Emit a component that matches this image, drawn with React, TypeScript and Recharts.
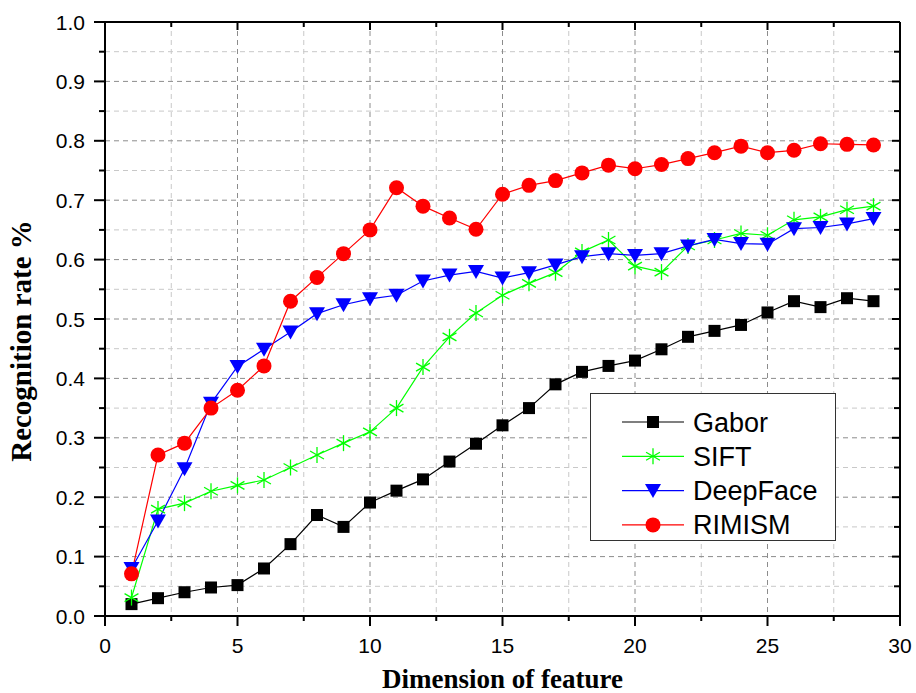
import React from 'react';
import { LineChart, Line, XAxis, YAxis, CartesianGrid, Legend, Label } from 'recharts';

const dims = [1, 2, 3, 4, 5, 6, 7, 8, 9, 10, 11, 12, 13, 14, 15, 16, 17, 18, 19, 20, 21, 22, 23, 24, 25, 26, 27, 28, 29];
const gabor = [0.020, 0.030, 0.040, 0.048, 0.052, 0.080, 0.121, 0.170, 0.150, 0.191, 0.211, 0.230, 0.260, 0.290, 0.321, 0.350, 0.390, 0.411, 0.421, 0.430, 0.449, 0.470, 0.480, 0.490, 0.511, 0.530, 0.520, 0.535, 0.530];
const sift = [0.031, 0.180, 0.190, 0.210, 0.220, 0.229, 0.250, 0.271, 0.291, 0.310, 0.350, 0.419, 0.470, 0.510, 0.540, 0.560, 0.578, 0.613, 0.633, 0.589, 0.579, 0.623, 0.633, 0.644, 0.641, 0.667, 0.672, 0.684, 0.690];
const deepface = [0.080, 0.160, 0.248, 0.358, 0.420, 0.449, 0.478, 0.509, 0.524, 0.534, 0.540, 0.564, 0.574, 0.580, 0.569, 0.578, 0.591, 0.605, 0.610, 0.607, 0.610, 0.623, 0.634, 0.627, 0.626, 0.652, 0.654, 0.660, 0.669];
const rimism = [0.071, 0.271, 0.291, 0.350, 0.380, 0.421, 0.530, 0.570, 0.610, 0.650, 0.721, 0.690, 0.670, 0.651, 0.710, 0.725, 0.733, 0.746, 0.759, 0.753, 0.760, 0.770, 0.780, 0.791, 0.780, 0.784, 0.795, 0.794, 0.793];

const seriesKeys = ['gabor', 'sift', 'deepface', 'rimism'];
const seriesNames = ['Gabor', 'SIFT', 'DeepFace', 'RIMISM'];
const seriesColors = ['#000000', '#00ff00', '#0000ff', '#ff0000'];
const seriesMarkers = ['square', 'asterisk', 'triangle', 'circle'];

const xTicks = [0, 2.5, 5, 7.5, 10, 12.5, 15, 17.5, 20, 22.5, 25, 27.5, 30];
const xTickLabels = ['0', '', '5', '', '10', '', '15', '', '20', '', '25', '', '30'];
const xMajor = [0, 5, 10, 15, 20, 25, 30];
const xMinor = [2.5, 7.5, 12.5, 17.5, 22.5, 27.5];
const yTicks = [0, 0.05, 0.1, 0.15, 0.2, 0.25, 0.3, 0.35, 0.4, 0.45, 0.5, 0.55, 0.6, 0.65, 0.7, 0.75, 0.8, 0.85, 0.9, 0.95, 1.0];
const yTickLabels = ['0.0', '', '0.1', '', '0.2', '', '0.3', '', '0.4', '', '0.5', '', '0.6', '', '0.7', '', '0.8', '', '0.9', '', '1.0'];
const yMajor = [0, 0.1, 0.2, 0.3, 0.4, 0.5, 0.6, 0.7, 0.8, 0.9, 1.0];
const yMinor = [0.05, 0.15, 0.25, 0.35, 0.45, 0.55, 0.65, 0.75, 0.85, 0.95];

const data = dims.map((d, i) => ({ dim: d, gabor: gabor[i], sift: sift[i], deepface: deepface[i], rimism: rimism[i] }));

const SANS = '"Liberation Sans", Arial, Helvetica, sans-serif';
const SERIF = '"Liberation Serif", "Times New Roman", serif';

function marker(kind: string, cx: number, cy: number, color: string, key?: string) {
  if (kind === 'square') {
    return <rect key={key} x={cx - 6} y={cy - 6} width={12} height={12} fill={color} />;
  }
  if (kind === 'asterisk') {
    const r = 8;
    const a = Math.cos(Math.PI / 6) * r;
    const b = Math.sin(Math.PI / 6) * r;
    return (
      <g key={key} stroke={color} strokeWidth={1.3}>
        <line x1={cx} y1={cy - r} x2={cx} y2={cy + r} />
        <line x1={cx - a} y1={cy - b} x2={cx + a} y2={cy + b} />
        <line x1={cx - a} y1={cy + b} x2={cx + a} y2={cy - b} />
      </g>
    );
  }
  if (kind === 'triangle') {
    return <polygon key={key} points={`${cx - 8},${cy - 6.5} ${cx + 8},${cy - 6.5} ${cx},${cy + 7.5}`} fill={color} />;
  }
  return <circle key={key} cx={cx} cy={cy} r={7.5} fill={color} />;
}

const makeDot = (kind: string, color: string) => (p: any) => {
  if (p.cx == null || p.cy == null) return <g key={p.key} />;
  return marker(kind, p.cx, p.cy, color, p.key);
};

const BottomTick = (p: any) => {
  const lbl = xTickLabels[p.index] ?? '';
  const major = lbl !== '';
  return (
    <g>
      <line x1={p.x} x2={p.x} y1={p.y} y2={p.y + (major ? 10 : 5)} stroke="#000" strokeWidth={2} />
      {major && (
        <text x={p.x} y={p.y + 37} textAnchor="middle" fontSize={21} fontFamily={SANS} fill="#000">{lbl}</text>
      )}
    </g>
  );
};

const TopTick = (p: any) => {
  const major = (xTickLabels[p.index] ?? '') !== '';
  return <line x1={p.x} x2={p.x} y1={p.y} y2={p.y + (major ? 8 : 5)} stroke="#000" strokeWidth={2} />;
};

const LeftTick = (p: any) => {
  const lbl = yTickLabels[p.index] ?? '';
  const major = lbl !== '';
  return (
    <g>
      <line x1={p.x - (major ? 11 : 6)} x2={p.x} y1={p.y} y2={p.y} stroke="#000" strokeWidth={2} />
      {major && (
        <text x={p.x - 20} y={p.y + 7.5} textAnchor="end" fontSize={21} fontFamily={SANS} fill="#000">{lbl}</text>
      )}
    </g>
  );
};

const RightTick = (p: any) => {
  const major = (yTickLabels[p.index] ?? '') !== '';
  return <line x1={p.x - (major ? 8 : 6)} x2={p.x} y1={p.y} y2={p.y} stroke="#000" strokeWidth={2} />;
};

const LegendBox = () => (
  <div style={{ width: 246, height: 148, boxSizing: 'border-box', border: '1px solid #333', background: '#fff' }}>
    <svg width={244} height={146} style={{ display: 'block' }}>
      {seriesNames.map((name, i) => {
        const cy = 28 + i * 34.3;
        return (
          <g key={name}>
            <line x1={31} x2={93} y1={cy} y2={cy} stroke={seriesColors[i]} strokeWidth={1.2} />
            {marker(seriesMarkers[i], 62, cy, seriesColors[i])}
            <text x={102} y={cy + 9.5} fontSize={27} fontFamily={SANS} fill="#000">{name}</text>
          </g>
        );
      })}
    </svg>
  </div>
);

export default function App() {
  return (
    <div style={{ position: 'absolute', left: 0, top: 0, width: 916, height: 693, background: '#fff' }}>
      <LineChart width={916} height={693} data={data} margin={{ top: 0, right: 0, bottom: 0, left: 0 }}>
        <CartesianGrid stroke="#c8c8c8" strokeDasharray="5 4" strokeWidth={1} horizontalValues={yMinor} verticalValues={xMinor} />
        <CartesianGrid stroke="#8c8c8c" strokeDasharray="5 4" strokeWidth={1} horizontalValues={yMajor} verticalValues={xMajor} />
        <XAxis
          dataKey="dim"
          type="number"
          domain={[0, 30]}
          ticks={xTicks}
          interval={0}
          allowDataOverflow
          height={77}
          tickSize={0}
          tickMargin={0}
          tickLine={false}
          tick={BottomTick}
          axisLine={{ stroke: '#000', strokeWidth: 2 }}
        >
          <Label
            content={(lp: any) => {
              const vb = lp.viewBox || { x: 105, y: 616, width: 795, height: 77 };
              return (
                <text x={vb.x + vb.width / 2} y={vb.y + 72} textAnchor="middle" fontSize={27} fontWeight="bold" fontFamily={SERIF} fill="#000">
                  Dimension of feature
                </text>
              );
            }}
          />
        </XAxis>
        <XAxis
          xAxisId="top"
          orientation="top"
          dataKey="dim"
          type="number"
          domain={[0, 30]}
          ticks={xTicks}
          interval={0}
          allowDataOverflow
          height={22}
          tickSize={0}
          tickMargin={0}
          tickLine={false}
          tick={TopTick}
          axisLine={{ stroke: '#000', strokeWidth: 2 }}
        />
        <YAxis
          type="number"
          domain={[0, 1]}
          ticks={yTicks}
          interval={0}
          allowDataOverflow
          width={105}
          tickSize={0}
          tickMargin={0}
          tickLine={false}
          tick={LeftTick}
          axisLine={{ stroke: '#000', strokeWidth: 2 }}
        >
          <Label
            content={(lp: any) => {
              const vb = lp.viewBox || { x: 0, y: 22, width: 105, height: 594 };
              const cx = vb.x + 31;
              const cy = vb.y + vb.height / 2 + 22;
              return (
                <text x={cx} y={cy} transform={`rotate(-90 ${cx} ${cy})`} textAnchor="middle" fontSize={29} fontWeight="bold" fontFamily={SERIF} fill="#000">
                  Recognition rate %
                </text>
              );
            }}
          />
        </YAxis>
        <YAxis
          yAxisId="right"
          orientation="right"
          type="number"
          domain={[0, 1]}
          ticks={yTicks}
          interval={0}
          allowDataOverflow
          width={16}
          tickSize={0}
          tickMargin={0}
          tickLine={false}
          tick={RightTick}
          axisLine={{ stroke: '#000', strokeWidth: 2 }}
        />
        {seriesKeys.map((k, i) => (
          <Line
            key={k}
            type="linear"
            dataKey={k}
            name={seriesNames[i]}
            stroke={seriesColors[i]}
            strokeWidth={1.2}
            dot={makeDot(seriesMarkers[i], seriesColors[i])}
            activeDot={false}
            isAnimationActive={false}
          />
        ))}
        <Legend
          layout="vertical"
          align="center"
          verticalAlign="middle"
          wrapperStyle={{ left: 590, top: 393, width: 246, height: 148 }}
          content={() => <LegendBox />}
        />
      </LineChart>
    </div>
  );
}
